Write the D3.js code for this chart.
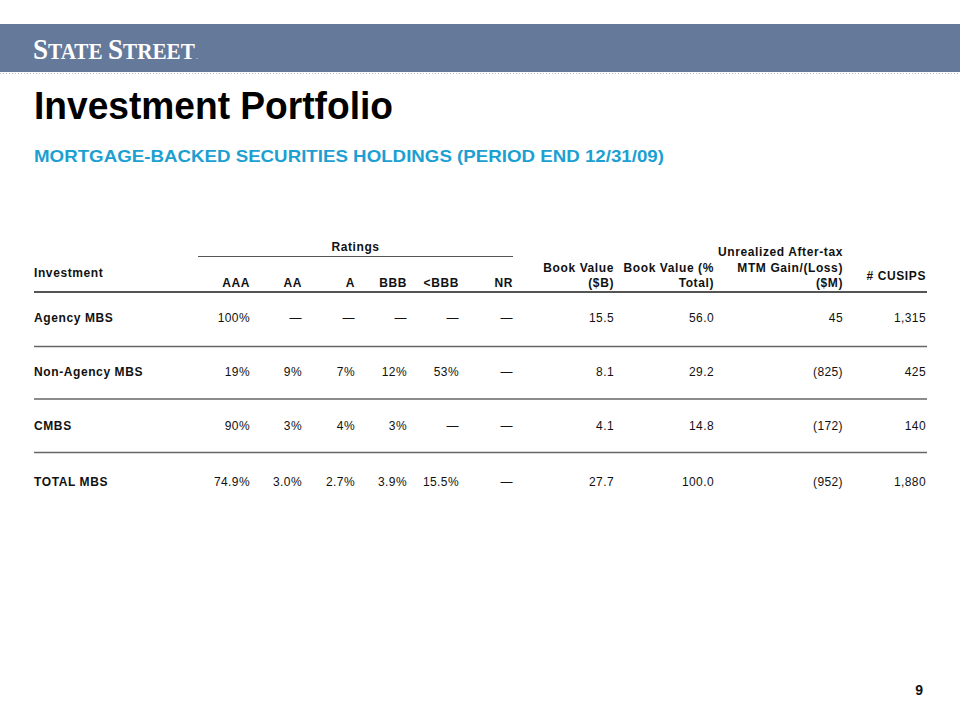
<!DOCTYPE html>
<html><head><meta charset="utf-8">
<script src="https://cdn.jsdelivr.net/npm/d3@7/dist/d3.min.js"></script>
<style>
html,body{margin:0;padding:0;background:#fff;}
svg{display:block;}
</style></head>
<body>
<svg id="c" width="960" height="720"></svg>
<script>
// ---- data ----
const investments = ["Agency MBS", "Non-Agency MBS", "CMBS", "TOTAL MBS"];
const ratingLabels = ["AAA", "AA", "A", "BBB", "<BBB", "NR"];
const aaa = [100, 19, 90, 74.9];
const aa = [null, 9, 3, 3.0];
const a = [null, 7, 4, 2.7];
const bbb = [null, 12, 3, 3.9];
const belowBbb = [null, 53, null, 15.5];
const nr = [null, null, null, null];
const bookValueB = [15.5, 8.1, 4.1, 27.7];
const bookValuePct = [56.0, 29.2, 14.8, 100.0];
const mtmGainLoss = [45, -825, -172, -952];
const cusips = [1315, 425, 140, 1880];

const svg = d3.select("#c");
const FONT = "'Liberation Sans', Arial, sans-serif";

// header band
svg.append("rect").attr("x", 0).attr("y", 24).attr("width", 960).attr("height", 48).attr("fill", "#65799a");
svg.append("line").attr("x1", 0).attr("x2", 960).attr("y1", 73.5).attr("y2", 73.5)
  .attr("stroke", "#b8bfca").attr("stroke-width", 1).attr("stroke-dasharray", "1,2");

// logo (scaled group so that glyphs are not squeezed into each other)
const logoG = svg.append("g");
const logo = logoG.append("text").attr("x", 0).attr("y", 0)
  .attr("font-family", "'Liberation Serif', 'Times New Roman', serif").attr("font-weight", "bold")
  .attr("fill", "#fff");
logo.append("tspan").attr("font-size", 30).text("S");
logo.append("tspan").attr("font-size", 23.5).text("TATE ");
logo.append("tspan").attr("font-size", 30).text("S");
logo.append("tspan").attr("font-size", 23.5).text("TREET");
const lw = logo.node().getComputedTextLength();
logoG.attr("transform", `translate(33,59) scale(${162 / lw},1)`);
svg.append("text").attr("x", 196).attr("y", 59).attr("font-family", "'Liberation Serif', serif")
  .attr("font-size", 8).attr("fill", "#fff").text(".");

// titles
svg.append("text").attr("x", 34).attr("y", 118.5)
  .attr("font-family", FONT).attr("font-weight", "bold").attr("font-size", 38)
  .attr("fill", "#000").attr("textLength", 359).attr("lengthAdjust", "spacingAndGlyphs")
  .text("Investment Portfolio");
svg.append("text").attr("x", 34).attr("y", 162)
  .attr("font-family", FONT).attr("font-weight", "bold").attr("font-size", 16.5)
  .attr("fill", "#1ca0d2").attr("textLength", 630).attr("lengthAdjust", "spacingAndGlyphs")
  .text("MORTGAGE-BACKED SECURITIES HOLDINGS (PERIOD END 12/31/09)");

// ---- table layout ----
const columns = ["AAA", "AA", "A", "BBB", "<BBB", "NR", "bvB", "bvP", "mtm", "cusips"];
const x = d3.scaleOrdinal().domain(columns).range([250, 302, 355, 407, 459, 513, 614, 714, 843, 926]);
const y = d3.scaleOrdinal().domain(investments).range([322, 376, 429.5, 486]);
const tableLeft = 34, tableRight = 927;

const g = svg.append("g").attr("font-family", FONT).attr("font-size", 12).attr("fill", "#111");

// header
const hdr = g.append("g").attr("font-weight", "bold").attr("letter-spacing", 0.6);
hdr.append("text").attr("x", (198 + 513) / 2).attr("y", 251).attr("text-anchor", "middle").text("Ratings");
g.append("line").attr("x1", 198).attr("x2", 513).attr("y1", 256.5).attr("y2", 256.5)
  .attr("stroke", "#555").attr("stroke-width", 1);
hdr.append("text").attr("x", tableLeft).attr("y", 277).text("Investment");
ratingLabels.forEach(r => hdr.append("text").attr("x", x(r)).attr("y", 287).attr("text-anchor", "end").text(r));
const multi = [
  ["bvB", ["Book Value", "($B)"], [272, 287]],
  ["bvP", ["Book Value (%", "Total)"], [272, 287]],
  ["mtm", ["Unrealized After-tax", "MTM Gain/(Loss)", "($M)"], [256, 272, 287]],
  ["cusips", ["# CUSIPS"], [280]]
];
multi.forEach(([c, lines, ys]) => lines.forEach((t, i) =>
  hdr.append("text").attr("x", x(c)).attr("y", ys[i]).attr("text-anchor", "end").text(t)));

g.append("line").attr("x1", tableLeft).attr("x2", tableRight).attr("y1", 292).attr("y2", 292)
  .attr("stroke", "#555").attr("stroke-width", 2);
[346.5, 399, 452.5].forEach(yy =>
  g.append("line").attr("x1", tableLeft).attr("x2", tableRight).attr("y1", yy).attr("y2", yy)
    .attr("stroke", "#666").attr("stroke-width", 1.5));

// body
const pctInt = d3.format(".0f"), pct1 = d3.format(".1f"), f1 = d3.format(".1f"), comma = d3.format(",");
const dash = "\u2014";
const fmtPct = (v, i) => v == null ? dash : (investments[i] === "TOTAL MBS" ? pct1(v) : pctInt(v)) + "%";
const fmtMtm = v => v < 0 ? "(" + comma(-v) + ")" : comma(v);

const colData = [
  ["AAA", aaa, fmtPct], ["AA", aa, fmtPct], ["A", a, fmtPct], ["BBB", bbb, fmtPct],
  ["<BBB", belowBbb, fmtPct], ["NR", nr, fmtPct],
  ["bvB", bookValueB, v => f1(v)], ["bvP", bookValuePct, v => f1(v)],
  ["mtm", mtmGainLoss, fmtMtm], ["cusips", cusips, v => comma(v)]
];

const rows = g.selectAll("g.row").data(investments).join("g").attr("class", "row");
rows.append("text").attr("x", tableLeft).attr("y", d => y(d)).attr("font-weight", "bold")
  .attr("letter-spacing", 0.6).text(d => d);
investments.forEach((inv, i) => {
  colData.forEach(([c, arr, fmt]) => {
    g.append("text").attr("x", x(c)).attr("y", y(inv)).attr("text-anchor", "end")
      .attr("letter-spacing", 0.4).text(fmt(arr[i], i));
  });
});

// page number
svg.append("text").attr("x", 923).attr("y", 695).attr("text-anchor", "end")
  .attr("font-family", FONT).attr("font-weight", "bold").attr("font-size", 14).attr("fill", "#111").text("9");
</script>
</body></html>
